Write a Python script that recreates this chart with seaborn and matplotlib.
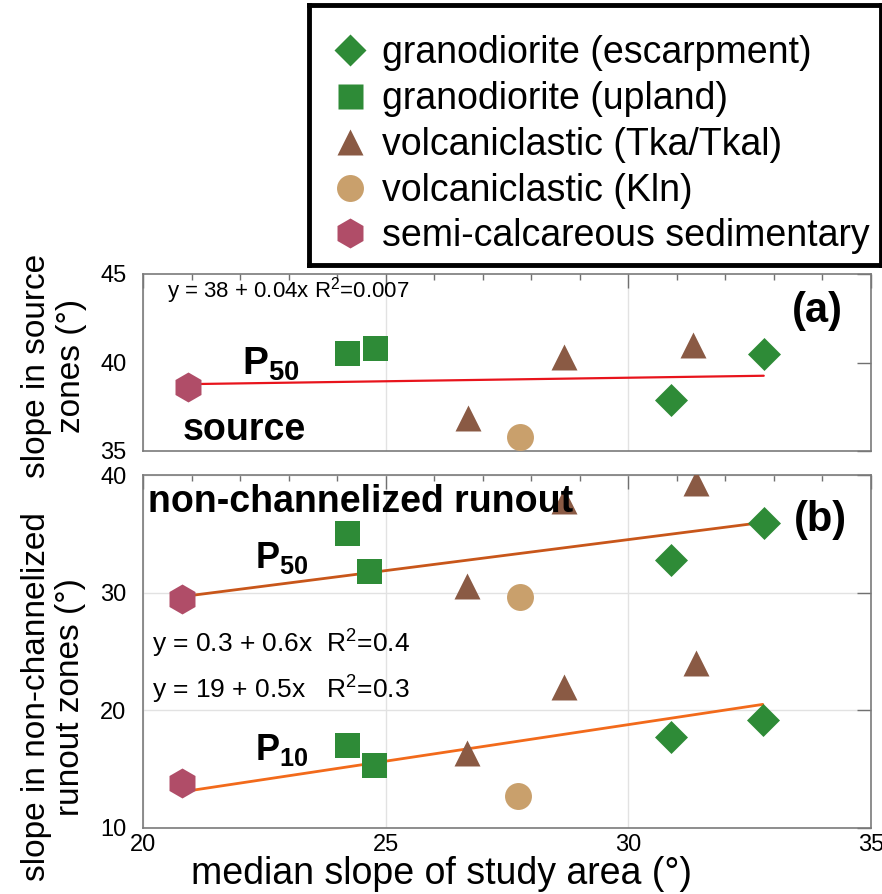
import numpy as np
import pandas as pd
import matplotlib
matplotlib.use("Agg")
import matplotlib.pyplot as plt
from matplotlib.lines import Line2D
from matplotlib.ticker import MultipleLocator
import seaborn as sns

# ---------------- data ----------------
lith_names = ["granodiorite (escarpment)", "granodiorite (upland)",
              "volcaniclastic (Tka/Tkal)", "volcaniclastic (Kln)",
              "semi-calcareous sedimentary"]
lith_colors = ["#2e8b37", "#2e8b37", "#8a5a44", "#c9a06c", "#b04d68"]
lith_markers = ["D", "s", "^", "o", "h"]

# panel (a): source zones, P50
a_lith = [4, 1, 1, 2, 3, 2, 0, 2, 0]
a_median = [20.93, 24.20, 24.77, 26.69, 27.77, 28.67, 30.87, 31.33, 32.79]
a_p50 = [38.63, 40.55, 40.80, 36.85, 35.81, 40.33, 37.88, 40.99, 40.46]

# panel (b): non-channelized runout zones, P50 and P10
b_lith = [4, 1, 1, 2, 3, 2, 0, 2, 0]
b_median_p50 = [20.80, 24.20, 24.65, 26.67, 27.77, 28.67, 30.87, 31.40, 32.79]
b_p50 = [29.44, 35.04, 31.87, 30.60, 29.66, 37.80, 32.78, 39.36, 35.95]
b_median_p10 = [20.80, 24.20, 24.75, 26.67, 27.72, 28.67, 30.87, 31.40, 32.77]
b_p10 = [13.86, 17.06, 15.36, 16.41, 12.73, 22.00, 17.71, 24.00, 19.20]

# fitted lines (as drawn)
fit_intercept = [37.94, 18.70, 0.155]
fit_slope = [0.04, 0.527, 0.621]
fit_colors = ["#e8141c", "#c8561a", "#f26a1b"]

x_ticks = [20, 25, 30, 35]
a_yticks = [35, 40, 45]
b_yticks = [10, 20, 30, 40]

# ---------------- style ----------------
sns.set_style("white")
plt.rcParams["font.family"] = ["Liberation Sans", "DejaVu Sans"]
plt.rcParams["mathtext.fontset"] = "custom"
plt.rcParams["mathtext.rm"] = "Liberation Sans"
plt.rcParams["mathtext.it"] = "Liberation Sans:italic"
plt.rcParams["mathtext.bf"] = "Liberation Sans:bold"
for key in ["text.color", "axes.labelcolor", "xtick.labelcolor", "ytick.labelcolor"]:
    plt.rcParams[key] = "black"
plt.rcParams["xtick.labelsize"] = 17
plt.rcParams["ytick.labelsize"] = 17

marker_ms = [16.8, 18.0, 18.7, 19.4, 21.6]  # marker size in points

W, H = 882, 894
fig = plt.figure(figsize=(W / 100, H / 100), dpi=100)

def fx(px):
    return px / W

def fy(py):
    return 1 - py / H

ax_a = fig.add_axes([fx(143), fy(451), fx(871) - fx(143), fy(274) - fy(451)])
ax_b = fig.add_axes([fx(143), fy(828), fx(871) - fx(143), fy(475) - fy(828)])


def draw_points(ax, xs, ys, liths):
    df = pd.DataFrame({"x": xs, "y": ys, "lith": liths})
    for i in range(len(lith_names)):
        sub = df[df["lith"] == i]
        if len(sub) == 0:
            continue
        sns.scatterplot(data=sub, x="x", y="y", ax=ax, marker=lith_markers[i],
                        s=marker_ms[i] ** 2, color=lith_colors[i], linewidth=0,
                        zorder=3, legend=False)


def draw_fit(ax, xs, k, lw):
    xr = np.array([min(xs), max(xs)])
    sns.lineplot(x=xr, y=fit_intercept[k] + fit_slope[k] * xr, ax=ax,
                 color=fit_colors[k], lw=lw, zorder=2)


def style_axes(ax, yticks, ylim):
    ax.set_xlim(20, 35)
    ax.set_ylim(*ylim)
    ax.set_xticks(x_ticks)
    ax.set_yticks(yticks)
    ax.xaxis.set_minor_locator(MultipleLocator(1))
    ax.tick_params(which="both", direction="in", top=True, right=True,
                   color="#707070", labelcolor="black")
    ax.tick_params(which="major", length=10, width=1, labelsize=17)
    ax.tick_params(which="minor", length=4, width=1)
    ax.tick_params(axis="y", pad=12)
    ax.tick_params(axis="x", pad=4)
    for s in ax.spines.values():
        s.set_color("#7a7a7a")
        s.set_linewidth(1.2)
    ax.set_xlabel("")
    ax.set_ylabel("")


# ---- panel (a)
draw_fit(ax_a, a_median, 0, 1.6)
draw_points(ax_a, a_median, a_p50, a_lith)
style_axes(ax_a, a_yticks, (35, 45))
ax_a.grid(axis="x", color="#e2e2e2", lw=1)
ax_a.set_axisbelow(True)
ax_a.tick_params(labelbottom=False)
ax_a.set_ylabel("slope in source\nzones (°)", fontsize=24, linespacing=1.15)
ax_a.yaxis.set_label_coords(-0.077, 0.48)

ax_a.text(20.49, 43.70, "y = 38 + 0.04x R$^2$=0.007", fontsize=16, va="baseline", zorder=5)
ax_a.text(22.04, 39.29, r"$\mathbf{P_{50}}$", fontsize=28, va="baseline", zorder=5)
ax_a.text(20.82, 35.62, "source", fontsize=27, fontweight="bold", va="baseline", zorder=5)
ax_a.text(34.42, 42.9, "(a)", fontsize=30, fontweight="bold", ha="right", va="center", zorder=5)

# ---- panel (b)
draw_fit(ax_b, b_median_p50, 1, 2.0)
draw_fit(ax_b, b_median_p10, 2, 2.0)
draw_points(ax_b, b_median_p50, b_p50, b_lith)
draw_points(ax_b, b_median_p10, b_p10, b_lith)
style_axes(ax_b, b_yticks, (10, 40))
ax_b.grid(axis="both", color="#e2e2e2", lw=1)
ax_b.set_axisbelow(True)
ax_b.set_ylabel("slope in non-channelized\nrunout zones (°)", fontsize=24, linespacing=1.15)
ax_b.yaxis.set_label_coords(-0.078, 0.371)
ax_b.set_xlabel("median slope of study area (°)", fontsize=27)
ax_b.xaxis.set_label_coords(0.41, -0.078)

ax_b.text(20.10, 36.86, "non-channelized runout", fontsize=27, fontweight="bold",
          va="baseline", zorder=6)
ax_b.text(34.51, 36.18, "(b)", fontsize=30, fontweight="bold", ha="right", va="center", zorder=5)
ax_b.text(22.31, 32.10, r"$\mathbf{P_{50}}$", fontsize=26, va="baseline", zorder=5)
ax_b.text(22.31, 15.79, r"$\mathbf{P_{10}}$", fontsize=26, va="baseline", zorder=5)
ax_b.text(20.19, 24.88, "y = 0.3 + 0.6x  R$^2$=0.4", fontsize=19, va="baseline", zorder=5)
ax_b.text(20.19, 20.97, "y = 19 + 0.5x   R$^2$=0.3", fontsize=19, va="baseline", zorder=5)

# ---- legend box
ax_leg = fig.add_axes([fx(309), fy(265), fx(881) - fx(309), fy(5) - fy(265)])
ax_leg.set_xticks([])
ax_leg.set_yticks([])
for s in ax_leg.spines.values():
    s.set_color("black")
    s.set_linewidth(3.5)
handles = [Line2D([], [], ls="none", marker=lith_markers[i], ms=marker_ms[i],
                  mfc=lith_colors[i], mec="none") for i in range(len(lith_names))]
ax_leg.legend(handles, lith_names, loc="center left",
              bbox_to_anchor=((331 - 309) / 572, 0.462), frameon=False,
              fontsize=27, borderaxespad=0, borderpad=0, handlelength=1.0,
              handletextpad=0.35, labelspacing=0.26)

fig.savefig("out.png", dpi=100)
